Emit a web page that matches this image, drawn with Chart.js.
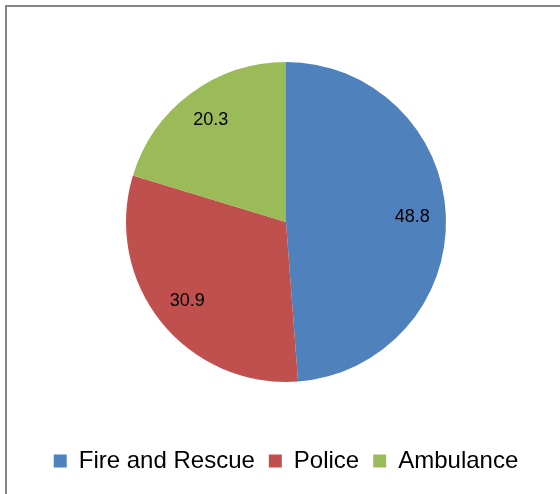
<!DOCTYPE html>
<html>
<head>
<meta charset="utf-8">
<script src="https://cdn.jsdelivr.net/npm/chart.js@4"></script>
<style>
    html, body { margin: 0; padding: 0; background: #ffffff; }
    #wrap { width: 560px; height: 494px; position: relative; }
</style>
</head>
<body>
<div id="wrap"><canvas id="pieChart" width="560" height="494"></canvas></div>
<script>
const categories = ['Fire and Rescue', 'Police', 'Ambulance'];
const shares = [48.8, 30.9, 20.3];
const sliceColors = ['#4F81BD', '#C0504D', '#9BBB59'];

// frame around the plot, only top and left edges are inside the picture
const framePlugin = {
    id: 'frame',
    beforeDraw(chart) {
        const ctx = chart.ctx;
        ctx.save();
        ctx.strokeStyle = '#868686';
        ctx.lineWidth = 2;
        ctx.strokeRect(6, 6, 700, 700);
        ctx.restore();
    }
};

// value labels inside each slice
const sliceLabels = {
    id: 'sliceLabels',
    afterDatasetsDraw(chart) {
        const ctx = chart.ctx;
        const meta = chart.getDatasetMeta(0);
        ctx.save();
        ctx.fillStyle = '#000000';
        ctx.font = '18px "Liberation Sans", Arial, sans-serif';
        ctx.textAlign = 'center';
        ctx.textBaseline = 'middle';
        meta.data.forEach(function(arc, i) {
            const mid = (arc.startAngle + arc.endAngle) / 2;
            const r = arc.outerRadius * 0.79;
            ctx.fillText(shares[i].toFixed(1), arc.x + Math.cos(mid) * r, arc.y + Math.sin(mid) * r);
        });
        ctx.restore();
    }
};

new Chart(document.getElementById('pieChart').getContext('2d'), {
    type: 'pie',
    data: {
        labels: categories,
        datasets: [{
            data: shares,
            backgroundColor: sliceColors,
            borderWidth: 0,
            radius: 160
        }]
    },
    options: {
        responsive: false,
        animation: false,
        layout: {
            padding: { top: 9, left: 12, right: 0, bottom: 11 }
        },
        plugins: {
            legend: {
                position: 'bottom',
                labels: {
                    boxWidth: 13,
                    boxHeight: 13,
                    padding: 14,
                    color: '#000000',
                    font: { size: 24, family: '"Liberation Sans", Arial, sans-serif' }
                }
            },
            tooltip: { enabled: false }
        }
    },
    plugins: [framePlugin, sliceLabels]
});
</script>
</body>
</html>
